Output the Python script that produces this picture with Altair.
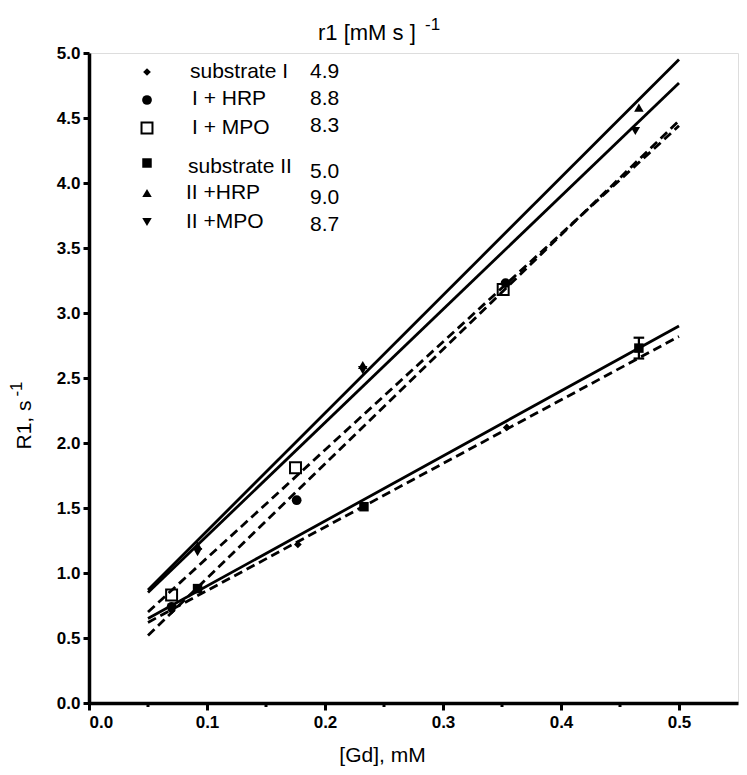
import altair as alt
import pandas as pd

# ---------------- data ----------------
series = ["substrate I", "I  + HRP", "I  + MPO", "substrate II", "II +HRP", "II +MPO"]
r1_values = ["4.9", "8.8", "8.3", "5.0", "9.0", "8.7"]

sI_x = [0.070, 0.177, 0.354]
sI_y = [0.71, 1.22, 2.12]
hrpI_x = [0.070, 0.176, 0.353]
hrpI_y = [0.74, 1.56, 3.23]
mpoI_x = [0.070, 0.175, 0.351]
mpoI_y = [0.83, 1.81, 3.18]
sII_x = [0.092, 0.233, 0.466]
sII_y = [0.88, 1.51, 2.73]
hrpII_x = [0.092, 0.232, 0.466]
hrpII_y = [1.21, 2.60, 4.58]
mpoII_x = [0.092, 0.232, 0.463]
mpoII_y = [1.16, 2.56, 4.40]

# error bar on the last substrate II point
err_x = [0.466]
err_lo = [2.65]
err_hi = [2.81]

# regression lines (x from 0.05 to 0.5)
fit_x = [0.05, 0.5]
fit_start = [0.62, 0.52, 0.70, 0.65, 0.87, 0.85]
fit_end = [2.82, 4.48, 4.44, 2.90, 4.95, 4.77]
fit_style = ["dashed", "dashed", "dashed", "solid", "solid", "solid"]

x_ticks = [0.0, 0.1, 0.2, 0.3, 0.4, 0.5]
x_minor = [0.05, 0.15, 0.25, 0.35, 0.45]
y_ticks = [0.0, 0.5, 1.0, 1.5, 2.0, 2.5, 3.0, 3.5, 4.0, 4.5, 5.0]

# ---------------- styling ----------------
FONT = "Liberation Sans"
W, H = 649, 650
xs = alt.Scale(domain=[0, 0.55], nice=False, zero=False)
ys = alt.Scale(domain=[0, 5], nice=False, zero=False)

x_axis = alt.Axis(values=x_ticks, format=".1f", grid=False,
                  labelFont=FONT, labelFontWeight="bold", labelFontSize=17, labelColor="black",
                  labelPadding=4, domainColor="black", domainWidth=3.5,
                  tickColor="black", tickWidth=3, tickSize=7,
                  title="[Gd], mM", titleFont=FONT, titleFontWeight="normal", titleFontSize=21,
                  titleColor="black", titleX=293, titleY=58, titleAlign="center",
                  titleBaseline="alphabetic")
y_axis = alt.Axis(values=y_ticks, format=".1f", grid=False,
                  labelFont=FONT, labelFontWeight="bold", labelFontSize=17, labelColor="black",
                  labelPadding=3, domainColor="black", domainWidth=3.5,
                  tickColor="black", tickWidth=3, tickSize=6, title=None)


def X(field="x"):
    return alt.X(f"{field}:Q", scale=xs, axis=x_axis)


def Y(field="y"):
    return alt.Y(f"{field}:Q", scale=ys, axis=y_axis)


layers = []

# regression lines
for name, s, e, st in zip(series, fit_start, fit_end, fit_style):
    df = pd.DataFrame({"x": fit_x, "y": [s, e]})
    kw = dict(color="black", strokeWidth=2.8)
    if st == "dashed":
        kw["strokeDash"] = [9, 5]
    layers.append(alt.Chart(df).mark_line(**kw).encode(x=X(), y=Y()))

# error bar
err_df = pd.DataFrame({"x": err_x, "lo": err_lo, "hi": err_hi})
layers.append(alt.Chart(err_df).mark_rule(color="black", strokeWidth=2.2).encode(
    x=X(), y=Y("lo"), y2="hi"))
cap_half = 0.0045
for col in ["lo", "hi"]:
    cdf = pd.DataFrame({"x": [v - cap_half for v in err_x], "x2": [v + cap_half for v in err_x],
                        "y": err_df[col]})
    layers.append(alt.Chart(cdf).mark_rule(color="black", strokeWidth=2.2).encode(
        x=X(), x2="x2", y=Y()))

# markers
marker_styles = [
    dict(shape="diamond", filled=True, size=60),
    dict(shape="circle", filled=True, size=95),
    dict(shape="square", filled=False, size=120, strokeWidth=2),
    dict(shape="square", filled=True, size=90),
    dict(shape="triangle-up", filled=True, size=90),
    dict(shape="triangle-down", filled=True, size=90),
]
point_sets = [(sI_x, sI_y), (hrpI_x, hrpI_y), (mpoI_x, mpoI_y),
              (sII_x, sII_y), (hrpII_x, hrpII_y), (mpoII_x, mpoII_y)]
for (px, py), ms in zip(point_sets, marker_styles):
    df = pd.DataFrame({"x": px, "y": py})
    layers.append(alt.Chart(df).mark_point(color="black", opacity=1, **ms).encode(x=X(), y=Y()))

# minor x ticks
minor_df = pd.DataFrame({"x": x_minor})
layers.append(alt.Chart(minor_df).mark_rule(color="black", strokeWidth=3).encode(
    x=X(), y=alt.value(H), y2=alt.value(H + 4)))

one = pd.DataFrame({"a": [0]})


def txt(text, x, y, size=21, align="left", angle=0, weight="normal"):
    return alt.Chart(one).mark_text(text=text, font=FONT, fontSize=size, align=align,
                                    baseline="middle", angle=angle, fontWeight=weight,
                                    color="black").encode(x=alt.value(x), y=alt.value(y))


# legend (in-plot key)
leg_marker_y = [19, 47, 75, 110, 140, 169]
leg_label_y = [19, 46, 75, 114, 140, 169]
leg_value_y = [19, 46, 73, 119, 145, 172]
leg_label_x = [101, 103, 103, 99, 97, 97]
for i, (name, val, ms) in enumerate(zip(series, r1_values, marker_styles)):
    layers.append(alt.Chart(one).mark_point(color="black", opacity=1, **ms).encode(
        x=alt.value(58), y=alt.value(leg_marker_y[i])))
    layers.append(txt(name, leg_label_x[i], leg_label_y[i]))
    layers.append(txt(val, 221, leg_value_y[i]))

# header of key
layers.append(txt("r1 [mM s ]", 229, -20, size=22))
layers.append(txt("-1", 336, -28, size=17))

# y axis title with superscript
layers.append(txt("R1, s", -64, 372, size=21, align="center", angle=270))
layers.append(txt("-1", -72, 336, size=17, align="center", angle=270))

chart = alt.layer(*layers).properties(
    width=W, height=H,
    autosize=alt.AutoSizeParams(type="none"),
    padding={"left": 81, "top": 45, "right": 1, "bottom": 64},
).configure_view(stroke=None).configure(background="white")

chart.save("out.html", embed_options={"renderer": "svg", "actions": False})
